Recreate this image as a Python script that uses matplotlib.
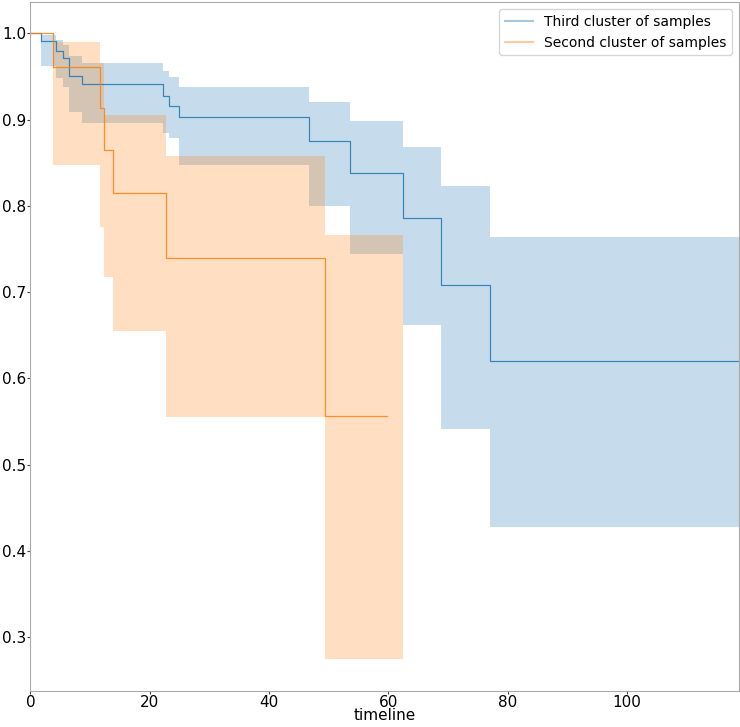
import numpy as np
import matplotlib
matplotlib.use("Agg")
import matplotlib.pyplot as plt
from matplotlib.lines import Line2D

# Third cluster of samples (Kaplan-Meier estimate)
t_third = [0, 1.8, 4.3, 5.5, 6.5, 8.65, 22.2, 23.2, 25.0, 46.7, 53.5, 62.4, 68.8, 77.0, 118.7]
s_third = [1.0, 0.991, 0.980, 0.971, 0.951, 0.941, 0.928, 0.916, 0.903, 0.875, 0.838, 0.786, 0.708, 0.620, 0.620]
hi_third = [1.0, 0.998, 0.992, 0.987, 0.974, 0.966, 0.957, 0.949, 0.938, 0.921, 0.899, 0.868, 0.823, 0.764, 0.764]
lo_third = [1.0, 0.962, 0.948, 0.938, 0.909, 0.896, 0.885, 0.879, 0.847, 0.800, 0.744, 0.662, 0.541, 0.427, 0.427]

# Second cluster of samples
t_second = [0, 3.8, 11.6, 12.4, 13.9, 22.7, 49.4, 59.8]
s_second = [1.0, 0.961, 0.913, 0.865, 0.815, 0.740, 0.556, 0.556]
t_second_ci = [0, 3.8, 11.6, 12.4, 13.9, 22.7, 49.4, 62.4]
hi_second = [1.0, 0.990, 0.966, 0.906, 0.906, 0.858, 0.766, 0.766]
lo_second = [1.0, 0.848, 0.776, 0.717, 0.655, 0.555, 0.274, 0.274]

labels = ["Third cluster of samples", "Second cluster of samples"]

fig, ax = plt.subplots(figsize=(7.4, 7.27), dpi=100)
fig.subplots_adjust(left=0.041, right=0.998, top=0.997, bottom=0.05)

ax.fill_between(t_third, lo_third, hi_third, step="post", color="C0", alpha=0.25, lw=0)
ax.plot(t_third, s_third, drawstyle="steps-post", color="C0", lw=0.9, alpha=0.85)
ax.fill_between(t_second_ci, lo_second, hi_second, step="post", color="C1", alpha=0.25, lw=0)
ax.plot(t_second, s_second, drawstyle="steps-post", color="C1", lw=0.9, alpha=0.85)

ax.set_xlim(0, 118.7)
ax.set_xlabel("timeline", fontsize=11, labelpad=-1)
ax.tick_params(labelsize=11, colors="#444444", labelcolor="black", length=2, pad=1)
for sp in ax.spines.values():
    sp.set_color("#aaaaaa")

handles = [Line2D([], [], color="C0", alpha=0.4), Line2D([], [], color="C1", alpha=0.4)]
ax.legend(handles, labels, loc="upper right", fontsize=10)

fig.savefig("out.png")
